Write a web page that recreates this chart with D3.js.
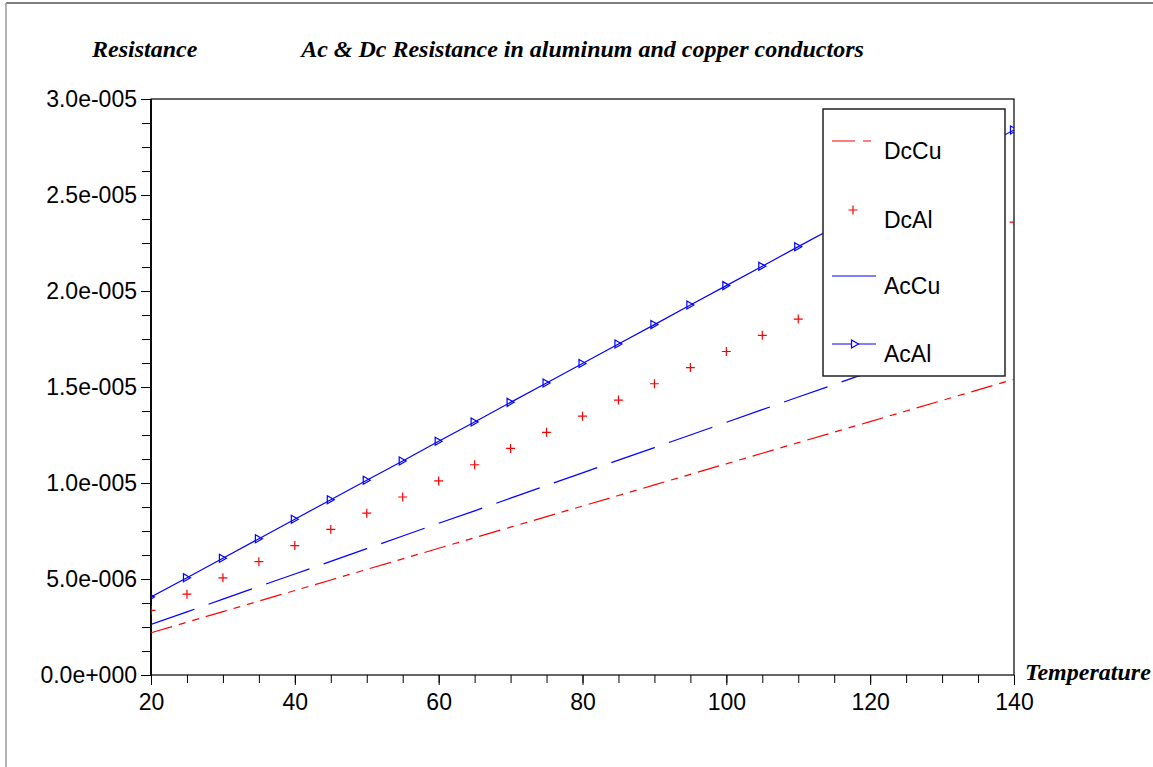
<!DOCTYPE html>
<html>
<head>
<meta charset="utf-8">
<script src="https://cdn.jsdelivr.net/npm/d3@7/dist/d3.min.js"></script>
<style>
    body { margin: 0; background: #fff; }
    svg { display: block; }
    .lbl { font-family: "Liberation Sans", Arial, sans-serif; font-size: 23px; fill: #000; }
    .ttl { font-family: "Liberation Serif", "Times New Roman", serif; font-style: italic; font-weight: bold; font-size: 24px; fill: #000; }
</style>
</head>
<body>
<svg id="svg" width="1153" height="767"></svg>
<script>

// temperature (x) and resistance values
var temps = [20, 25, 30, 35, 40, 45, 50, 55, 60, 65, 70, 75, 80, 85, 90, 95, 100, 105, 110, 115, 120, 125, 130, 135, 140];

var dcCu = [2.20e-6, 2.75e-6, 3.30e-6, 3.85e-6, 4.40e-6, 4.95e-6, 5.50e-6, 6.05e-6, 6.60e-6, 7.15e-6, 7.70e-6, 8.25e-6, 8.80e-6,
    9.35e-6, 9.90e-6, 10.45e-6, 11.00e-6, 11.55e-6, 12.10e-6, 12.65e-6, 13.20e-6, 13.75e-6, 14.30e-6, 14.85e-6, 15.40e-6];
var dcAl = [3.37e-6, 4.21e-6, 5.06e-6, 5.90e-6, 6.74e-6, 7.58e-6, 8.43e-6, 9.27e-6, 10.11e-6, 10.95e-6, 11.80e-6, 12.64e-6, 13.48e-6,
    14.32e-6, 15.17e-6, 16.01e-6, 16.85e-6, 17.69e-6, 18.54e-6, 19.38e-6, 20.22e-6, 21.06e-6, 21.91e-6, 22.75e-6, 23.59e-6];
var acCu = [2.63e-6, 3.29e-6, 3.95e-6, 4.61e-6, 5.26e-6, 5.92e-6, 6.58e-6, 7.24e-6, 7.90e-6, 8.55e-6, 9.21e-6, 9.87e-6, 10.53e-6,
    11.19e-6, 11.84e-6, 12.50e-6, 13.16e-6, 13.82e-6, 14.48e-6, 15.13e-6, 15.79e-6, 16.45e-6, 17.11e-6, 17.77e-6, 18.42e-6];
var acAl = [4.06e-6, 5.07e-6, 6.08e-6, 7.10e-6, 8.11e-6, 9.13e-6, 10.14e-6, 11.15e-6, 12.17e-6, 13.18e-6, 14.20e-6, 15.21e-6, 16.22e-6,
    17.24e-6, 18.25e-6, 19.27e-6, 20.28e-6, 21.29e-6, 22.31e-6, 23.32e-6, 24.34e-6, 25.35e-6, 26.36e-6, 27.38e-6, 28.39e-6];

var seriesNames = ['DcCu', 'DcAl', 'AcCu', 'AcAl'];

var xTicks = [20, 40, 60, 80, 100, 120, 140],
    yTicks = [0, 5e-6, 1e-5, 1.5e-5, 2e-5, 2.5e-5, 3e-5];

var box = {left: 151, right: 1014, top: 99, bottom: 675};

var $svg = d3.select('#svg');

var x = d3.scaleLinear().domain([20, 140]).range([box.left, box.right]),
    y = d3.scaleLinear().domain([0, 3e-5]).range([box.bottom, box.top]);

// 3.0e-005 style numbers
function sci(v) {
    var s = d3.format('.1e')(v),
        parts = s.split('e'),
        sign = parts[1].charAt(0),
        exp = parts[1].slice(1);
    while (exp.length < 3) exp = '0' + exp;
    return parts[0] + 'e' + sign + exp;
}

// outer frame
$svg.append('line').attr('x1', 6).attr('y1', 3).attr('x2', 1153).attr('y2', 3)
    .attr('stroke', '#555').attr('stroke-width', 1.5);
$svg.append('line').attr('x1', 6).attr('y1', 3).attr('x2', 6).attr('y2', 767)
    .attr('stroke', '#999').attr('stroke-width', 1.5);

// titles
$svg.append('text').attr('class', 'ttl').attr('x', 92).attr('y', 57).text('Resistance');
$svg.append('text').attr('class', 'ttl').attr('x', (box.left + box.right) / 2).attr('y', 57)
    .attr('text-anchor', 'middle').text('Ac & Dc Resistance in aluminum and copper conductors');
$svg.append('text').attr('class', 'ttl').attr('x', 1025).attr('y', 680).text('Temperature');

// axes
var $yAxis = $svg.append('g').attr('transform', 'translate(' + box.left + ',0)')
    .call(d3.axisLeft(y).tickValues(yTicks).tickSize(10).tickSizeOuter(0).tickPadding(4).tickFormat(sci));
$svg.append('g').attr('transform', 'translate(' + box.left + ',0)')
    .call(d3.axisLeft(y).tickValues(d3.range(0, 3e-5, 1.25e-6)).tickSize(9).tickSizeOuter(0).tickFormat(''));

var $xAxis = $svg.append('g').attr('transform', 'translate(0,' + box.bottom + ')')
    .call(d3.axisBottom(x).tickValues(xTicks).tickSize(10).tickSizeOuter(0).tickPadding(9));
$svg.append('g').attr('transform', 'translate(0,' + box.bottom + ')')
    .call(d3.axisBottom(x).tickValues(d3.range(20, 141, 5)).tickSize(8).tickSizeOuter(0).tickFormat(''));

$svg.selectAll('.domain').remove();
$svg.selectAll('.tick line').attr('stroke', '#000');
$svg.selectAll('.tick text').attr('class', 'lbl').attr('fill', null);
$yAxis.attr('font-size', null).attr('font-family', null);
$xAxis.attr('font-size', null).attr('font-family', null);

// plot box
$svg.append('rect').attr('x', box.left).attr('y', box.top)
    .attr('width', box.right - box.left).attr('height', box.bottom - box.top)
    .attr('fill', 'none').attr('stroke', '#000').attr('stroke-width', 1.2);
$svg.append('line').attr('x1', box.left).attr('y1', box.top).attr('x2', box.left).attr('y2', box.bottom)
    .attr('stroke', '#000').attr('stroke-width', 1.8);

$svg.append('clipPath').attr('id', 'clip').append('rect')
    .attr('x', box.left).attr('y', box.top)
    .attr('width', box.right - box.left).attr('height', box.bottom - box.top);

var $plot = $svg.append('g').attr('clip-path', 'url(#clip)');

function pts(vals) {
    return temps.map(function (t, i) { return [t, vals[i]]; });
}

var line = d3.line().x(function (d) { return x(d[0]); }).y(function (d) { return y(d[1]); });

var crossPath = 'M-4.5,0H4.5M0,-4.5V4.5',
    triPath = 'M-3.5,-4L3.5,0L-3.5,4Z';

// DcCu: red dash-dot-dot
$plot.append('path').attr('d', line(pts(dcCu)))
    .attr('fill', 'none').attr('stroke', '#ff0000').attr('stroke-width', 1.2)
    .attr('stroke-dasharray', '22,7,7,7,7,7');

// AcCu: blue long dash
$plot.append('path').attr('d', line(pts(acCu)))
    .attr('fill', 'none').attr('stroke', '#0000ff').attr('stroke-width', 1.2)
    .attr('stroke-dasharray', '46,15');

// DcAl: red crosses only
$plot.selectAll('path.dcal').data(pts(dcAl)).enter().append('path')
    .classed('dcal', true)
    .attr('transform', function (d) { return 'translate(' + x(d[0]) + ',' + y(d[1]) + ')'; })
    .attr('d', crossPath).attr('stroke', '#ff0000').attr('stroke-width', 1.2).attr('fill', 'none');

// AcAl: blue line with triangles
$plot.append('path').attr('d', line(pts(acAl)))
    .attr('fill', 'none').attr('stroke', '#0000ff').attr('stroke-width', 1.2);
$plot.selectAll('path.acal').data(pts(acAl)).enter().append('path')
    .classed('acal', true)
    .attr('transform', function (d) { return 'translate(' + x(d[0]) + ',' + y(d[1]) + ')'; })
    .attr('d', triPath).attr('stroke', '#0000ff').attr('stroke-width', 1.2).attr('fill', 'none');

// legend
var $legend = $svg.append('g').attr('transform', 'translate(823,109)');
$legend.append('rect').attr('width', 182).attr('height', 267)
    .attr('fill', '#fff').attr('stroke', '#222').attr('stroke-width', 1.5);

var legendRows = [32, 101, 167, 235];

seriesNames.forEach(function (name, i) {
    var ly = legendRows[i],
        $row = $legend.append('g').attr('transform', 'translate(0,' + ly + ')');
    if (name === 'DcCu') {
        $row.append('line').attr('x1', 9).attr('x2', 48)
            .attr('stroke', '#ff0000').attr('stroke-width', 1.2).attr('stroke-dasharray', '23,8,8,8');
    } else if (name === 'DcAl') {
        $row.append('path').attr('transform', 'translate(30,0)').attr('d', crossPath)
            .attr('stroke', '#ff0000').attr('stroke-width', 1.2).attr('fill', 'none');
    } else if (name === 'AcCu') {
        $row.append('line').attr('x1', 9).attr('x2', 53)
            .attr('stroke', '#0000ff').attr('stroke-width', 1.2);
    } else {
        $row.append('line').attr('x1', 9).attr('x2', 53)
            .attr('stroke', '#0000ff').attr('stroke-width', 1.2);
        $row.append('path').attr('transform', 'translate(32,0)').attr('d', triPath)
            .attr('stroke', '#0000ff').attr('stroke-width', 1.2).attr('fill', '#fff');
    }
    $row.append('text').attr('class', 'lbl').attr('x', 61).attr('y', 18).text(name);
});

</script>
</body>
</html>
